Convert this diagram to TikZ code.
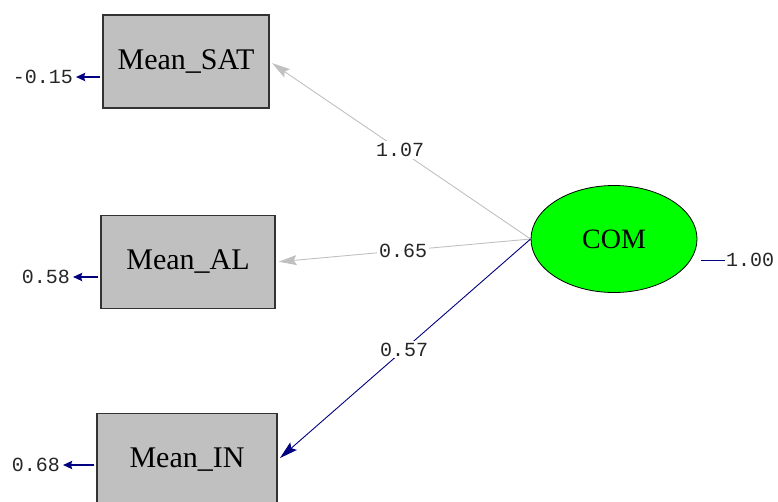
\documentclass[tikz,border=0pt]{standalone}
\usepackage{fontspec}
\setmainfont{Liberation Serif}
\newfontfamily\coeffont{Liberation Mono}
\usepackage{tikz}
\usetikzlibrary{positioning}
\usetikzlibrary{shapes.geometric}
\usetikzlibrary{arrows.meta}
\definecolor{pathgray}{HTML}{C0C0C0}
\definecolor{boxgray}{HTML}{C0C0C0}
\definecolor{errnavy}{HTML}{000080}
\definecolor{latentgreen}{HTML}{00FF00}

\begin{document}
\begin{tikzpicture}[x=1pt, y=-1pt,
	observed/.style={rectangle, draw=black!80, line width=1.4pt, fill=boxgray, minimum height=93pt, inner sep=0pt, font=\fontsize{30}{32}\selectfont},
	latent/.style={ellipse, draw=black, line width=0.8pt, fill=latentgreen, minimum width=166pt, minimum height=107pt, inner sep=0pt, font=\fontsize{28}{30}\selectfont},
	coef/.style={fill=white, inner sep=2pt, text=black!85, font=\coeffont\fontsize{20}{21}\selectfont},
	errlabel/.style={inner sep=1pt, text=black!85, font=\coeffont\fontsize{20}{21}\selectfont},
	loading/.style={draw=pathgray, line width=0.9pt, shorten >=3pt, -{Stealth[length=18pt, width=10pt, inset=3pt]}},
	fixedload/.style={draw=errnavy, line width=0.9pt, shorten >=3pt, -{Stealth[length=18pt, width=10pt, inset=3pt]}},
	errarrow/.style={draw=errnavy, line width=2.4pt, shorten <=2pt, shorten >=2pt, -{Stealth[length=9pt, width=8pt, inset=1pt]}}]
	\path[use as bounding box] (0,0) rectangle (778,501);
	% observed variables
	\node at (186,61.5) (meansat) [observed, minimum width=166pt] {Mean\_SAT};
	\node at (188,262) (meanal) [observed, minimum width=174pt] {Mean\_AL};
	\node at (187,460) (meanin) [observed, minimum width=180pt] {Mean\_IN};
	% latent variable
	\node at (614,239) (com) [latent] {COM};
	% error terms
	\node at (74,77) (esat) [errlabel, anchor=east] {-0.15};
	\node at (71,277) (eal) [errlabel, anchor=east] {0.58};
	\node at (61,465) (ein) [errlabel, anchor=east] {0.68};
	\draw[errarrow] (meansat.west |- esat) -- (esat.east);
	\draw[errarrow] (meanal.west |- eal) -- (eal.east);
	\draw[errarrow] (meanin.west |- ein) -- (ein.east);
	\node at (725,260) (vcom) [errlabel, anchor=west] {1.00};
	\draw[draw=errnavy, line width=0.9pt, shorten <=4pt] (com.east |- vcom) -- (vcom.west);
	% loadings
	\draw[loading] (com.west) -- node[coef] {1.07} (meansat.east);
	\draw[loading] (com.west) -- node[coef] {0.65} (meanal.east);
	\draw[fixedload] (com.west) -- node[coef] {0.57} (meanin.east);
\end{tikzpicture}
\end{document}
